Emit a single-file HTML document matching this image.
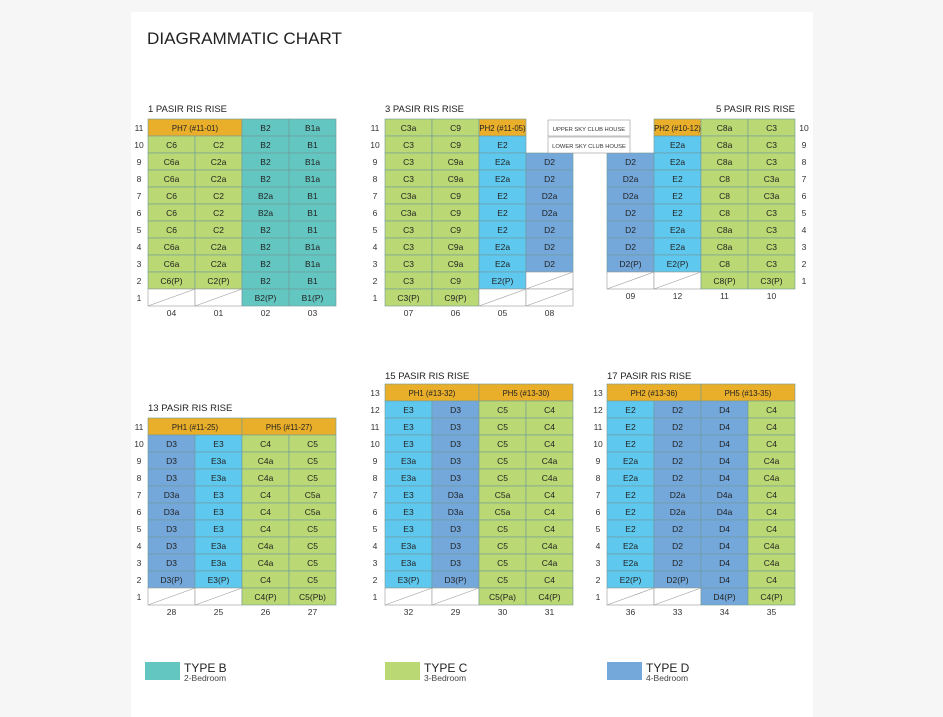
<!DOCTYPE html>
<html><head><meta charset="utf-8"><style>
html,body{margin:0;padding:0;background:#f6f6f6;}
#wrap{position:relative;width:943px;height:717px;overflow:hidden;}
svg{position:absolute;left:0;top:0;}
</style></head><body><div id="wrap">
<svg id="s" width="943" height="717" xmlns="http://www.w3.org/2000/svg" font-family="Liberation Sans, sans-serif"></svg>
</div>
<script>
const s=document.getElementById('s');let h='';
h+='<rect x="131" y="12" width="682" height="705" fill="#fff"/>';
h+='<text x="147" y="44" font-size="17" fill="#222" textLength="195" lengthAdjust="spacingAndGlyphs">DIAGRAMMATIC CHART</text>';
const col={B:'#64c6c1',C:'#bad873',D:'#74a8db',E:'#5fc8ef',P:'#e9ae2a'};
const W=47,H=17;
function block(x0,y0,top,rows,cols,lvX,colY,title,tx,anchor,ty){
 h+=`<text x="${tx}" y="${ty}" font-size="9.5" fill="#222" text-anchor="${anchor}">${title}</text>`;
 rows.forEach((r,i)=>{const y=y0+i*H;const lv=top-i;
  h+=`<text x="${lvX}" y="${y+12}" font-size="8.5" fill="#333" text-anchor="middle">${lv}</text>`;
  let c=0;r.forEach(cell=>{let span=1,t=cell;
   if(cell.startsWith('2:')){span=2;t=cell.slice(2);}
   const x=x0+c*W,w=span*W;
   const fs=t.startsWith('PH')?7.8:8.5;
   if(t==='N'){}else if(t==='W'){h+=`<rect x="${x}" y="${y}" width="${w}" height="${H}" fill="#fff" stroke="#999" stroke-width="0.6"/><line x1="${x}" y1="${y+H}" x2="${x+w}" y2="${y}" stroke="#999" stroke-width="0.6"/>`;}
   else{h+=`<rect x="${x}" y="${y}" width="${w}" height="${H}" fill="${col[t[0]]}" stroke="#6f9a9a" stroke-width="0.6"/><text x="${x+w/2}" y="${y+12}" font-size="${fs}" fill="#222" text-anchor="middle">${t}</text>`;}
   c+=span;});
 });
 cols.forEach((t,i)=>{h+=`<text x="${x0+i*W+W/2}" y="${colY}" font-size="8.5" fill="#333" text-anchor="middle">${t}</text>`;});
}
const sp=s=>s.split(',');
block(148,119,11,[sp('2:PH7 (#11-01),B2,B1a'),sp('C6,C2,B2,B1'),sp('C6a,C2a,B2,B1a'),sp('C6a,C2a,B2,B1a'),sp('C6,C2,B2a,B1'),sp('C6,C2,B2a,B1'),sp('C6,C2,B2,B1'),sp('C6a,C2a,B2,B1a'),sp('C6a,C2a,B2,B1a'),sp('C6(P),C2(P),B2,B1'),sp('W,W,B2(P),B1(P)')],['04','01','02','03'],139,316,'1 PASIR RIS RISE',148,'start',112);
block(385,119,11,[sp('C3a,C9,PH2 (#11-05),N'),sp('C3,C9,E2,N'),sp('C3,C9a,E2a,D2'),sp('C3,C9a,E2a,D2'),sp('C3a,C9,E2,D2a'),sp('C3a,C9,E2,D2a'),sp('C3,C9,E2,D2'),sp('C3,C9a,E2a,D2'),sp('C3,C9a,E2a,D2'),sp('C3,C9,E2(P),W'),sp('C3(P),C9(P),W,W')],['07','06','05','08'],375,316,'3 PASIR RIS RISE',385,'start',112);
block(607,119,10,[sp('N,PH2 (#10-12),C8a,C3'),sp('N,E2a,C8a,C3'),sp('D2,E2a,C8a,C3'),sp('D2a,E2,C8,C3a'),sp('D2a,E2,C8,C3a'),sp('D2,E2,C8,C3'),sp('D2,E2a,C8a,C3'),sp('D2,E2a,C8a,C3'),sp('D2(P),E2(P),C8,C3'),sp('W,W,C8(P),C3(P)')],['09','12','11','10'],804,299,'5 PASIR RIS RISE',795,'end',112);
block(148,418,11,[sp('2:PH1 (#11-25),2:PH5 (#11-27)'),sp('D3,E3,C4,C5'),sp('D3,E3a,C4a,C5'),sp('D3,E3a,C4a,C5'),sp('D3a,E3,C4,C5a'),sp('D3a,E3,C4,C5a'),sp('D3,E3,C4,C5'),sp('D3,E3a,C4a,C5'),sp('D3,E3a,C4a,C5'),sp('D3(P),E3(P),C4,C5'),sp('W,W,C4(P),C5(Pb)')],['28','25','26','27'],139,615,'13 PASIR RIS RISE',148,'start',411);
const r15=[sp('2:PH1 (#13-32),2:PH5 (#13-30)')];for(let i=0;i<3;i++)r15.push(sp('E3,D3,C5,C4'));
r15.push(sp('E3a,D3,C5,C4a'),sp('E3a,D3,C5,C4a'),sp('E3,D3a,C5a,C4'),sp('E3,D3a,C5a,C4'),sp('E3,D3,C5,C4'),sp('E3a,D3,C5,C4a'),sp('E3a,D3,C5,C4a'),sp('E3(P),D3(P),C5,C4'),sp('W,W,C5(Pa),C4(P)'));
block(385,384,13,r15,['32','29','30','31'],375,615,'15 PASIR RIS RISE',385,'start',379);
const r17=[sp('2:PH2 (#13-36),2:PH5 (#13-35)')];for(let i=0;i<3;i++)r17.push(sp('E2,D2,D4,C4'));
r17.push(sp('E2a,D2,D4,C4a'),sp('E2a,D2,D4,C4a'),sp('E2,D2a,D4a,C4'),sp('E2,D2a,D4a,C4'),sp('E2,D2,D4,C4'),sp('E2a,D2,D4,C4a'),sp('E2a,D2,D4,C4a'),sp('E2(P),D2(P),D4,C4'),sp('W,W,D4(P),C4(P)'));
block(607,384,13,r17,['36','33','34','35'],598,615,'17 PASIR RIS RISE',607,'start',379);
h+='<rect x="548" y="120" width="82" height="16" fill="#fff" stroke="#999" stroke-width="0.6"/><text x="589" y="131" font-size="5.8" fill="#333" text-anchor="middle">UPPER SKY CLUB HOUSE</text>';
h+='<rect x="548" y="137" width="82" height="16" fill="#fff" stroke="#999" stroke-width="0.6"/><text x="589" y="148" font-size="5.8" fill="#333" text-anchor="middle">LOWER SKY CLUB HOUSE</text>';
[[145,'B','TYPE B','2-Bedroom'],[385,'C','TYPE C','3-Bedroom'],[607,'D','TYPE D','4-Bedroom']].forEach(([x,k,a,b])=>{
 h+=`<rect x="${x}" y="662" width="35" height="18" fill="${col[k]}"/><text x="${x+39}" y="672" font-size="12" fill="#222">${a}</text><text x="${x+39}" y="681" font-size="8.5" fill="#444">${b}</text>`;});
s.innerHTML=h;
</script></body></html>
